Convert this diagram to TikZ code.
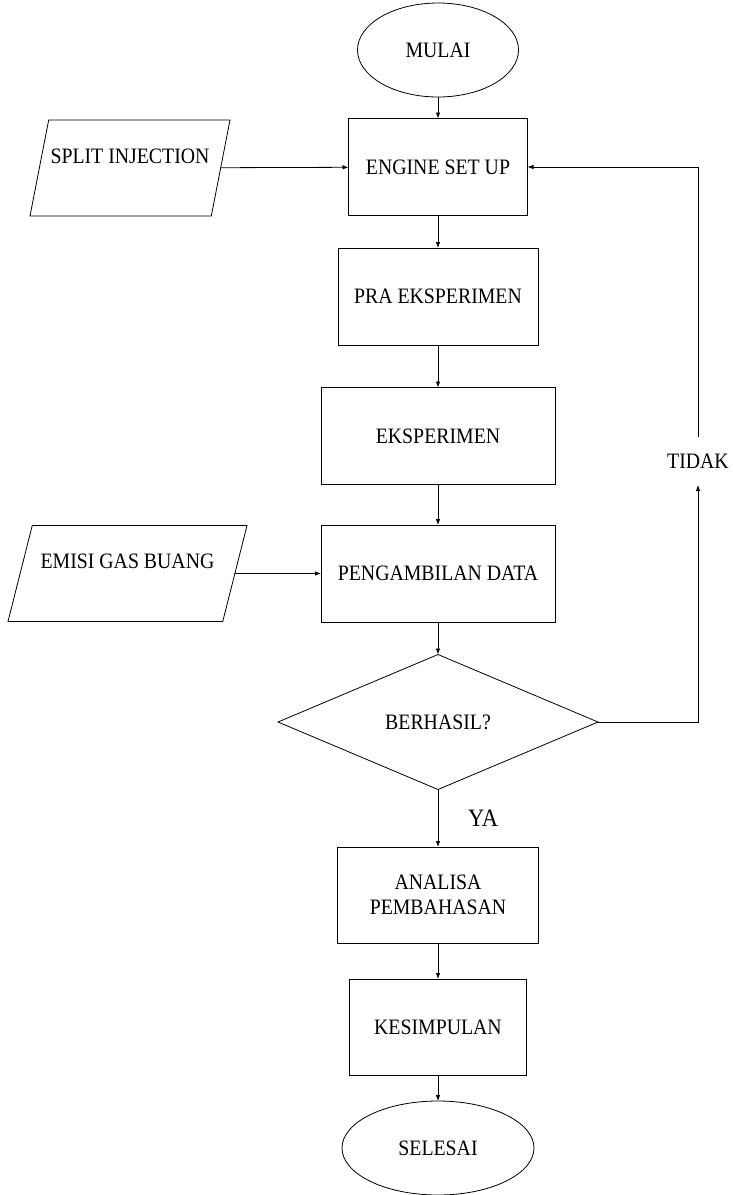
\documentclass[tikz,border=0pt]{standalone}
\usepackage{fontspec}
\setmainfont{Liberation Serif}[FakeStretch=0.9]
\usetikzlibrary{arrows.meta,positioning,shapes.geometric}

\begin{document}
\begin{tikzpicture}[
    x=1pt, y=-1pt,
    line width=0.8pt,
    >={Latex[length=6pt,width=4.5pt]},
    every node/.style={font=\fontsize{22}{25}\selectfont, align=center, inner sep=0pt, outer sep=0pt},
    proses/.style={draw, rectangle, minimum height=97pt},
    terminal/.style={draw, ellipse, minimum height=94pt},
    masukan/.style={draw, trapezium, trapezium stretches body=true, minimum height=96pt, text height=16pt, text depth=26pt},
    keputusan/.style={draw, diamond, minimum width=320pt, minimum height=135pt}]
    \useasboundingbox (0,0) rectangle (732,1195);

    \node[terminal, minimum width=161pt] (mulai)    at (438,50)    {MULAI};
    \node[proses, minimum width=179pt]   (setup)    at (438,167)   {ENGINE SET UP};
    \node[masukan, minimum width=200pt, trapezium left angle=66, trapezium right angle=114]
                                         (split)    at (130,168)   {SPLIT INJECTION};
    \node[proses, minimum width=200pt]   (pra)      at (438,296.5) {PRA EKSPERIMEN};
    \node[proses, minimum width=234pt]   (eks)      at (438,436)   {EKSPERIMEN};
    \node[proses, minimum width=234pt]   (data)     at (438,573.5) {PENGAMBILAN DATA};
    \node[masukan, minimum width=239pt, trapezium left angle=60, trapezium right angle=120]
                                         (emisi)    at (127.5,573.5) {EMISI GAS BUANG};
    \node[keputusan]                     (cek)      at (438,722)   {BERHASIL?};
    \node[proses, minimum width=201pt, minimum height=96pt] (analisa) at (438,895) {ANALISA\\PEMBAHASAN};
    \node[proses, minimum width=177pt, minimum height=96pt] (simpul)  at (438,1027) {KESIMPULAN};
    \node[terminal, minimum width=192pt] (selesai)  at (438,1148)  {SELESAI};
    \node[minimum height=48pt]           (tidak)    at (698,461)   {TIDAK};

    \draw[->] (mulai) -- (setup);
    \draw[->] (split) -- (setup);
    \draw[->] (setup) -- (pra);
    \draw[->] (pra) -- (eks);
    \draw[->] (eks) -- (data);
    \draw[->] (emisi) -- (data);
    \draw[->] (data) -- (cek);
    \draw[->] (cek) -- node[right=30pt, font=\fontsize{25}{28}\selectfont] (ya) {YA} (analisa);
    \draw[->] (analisa) -- (simpul);
    \draw[->] (simpul) -- (selesai);

    % jalur kembali jika gagal
    \draw[->] (cek.east) -| (tidak.south);
    \draw[->] (tidak.north) |- (setup.east);
\end{tikzpicture}
\end{document}
